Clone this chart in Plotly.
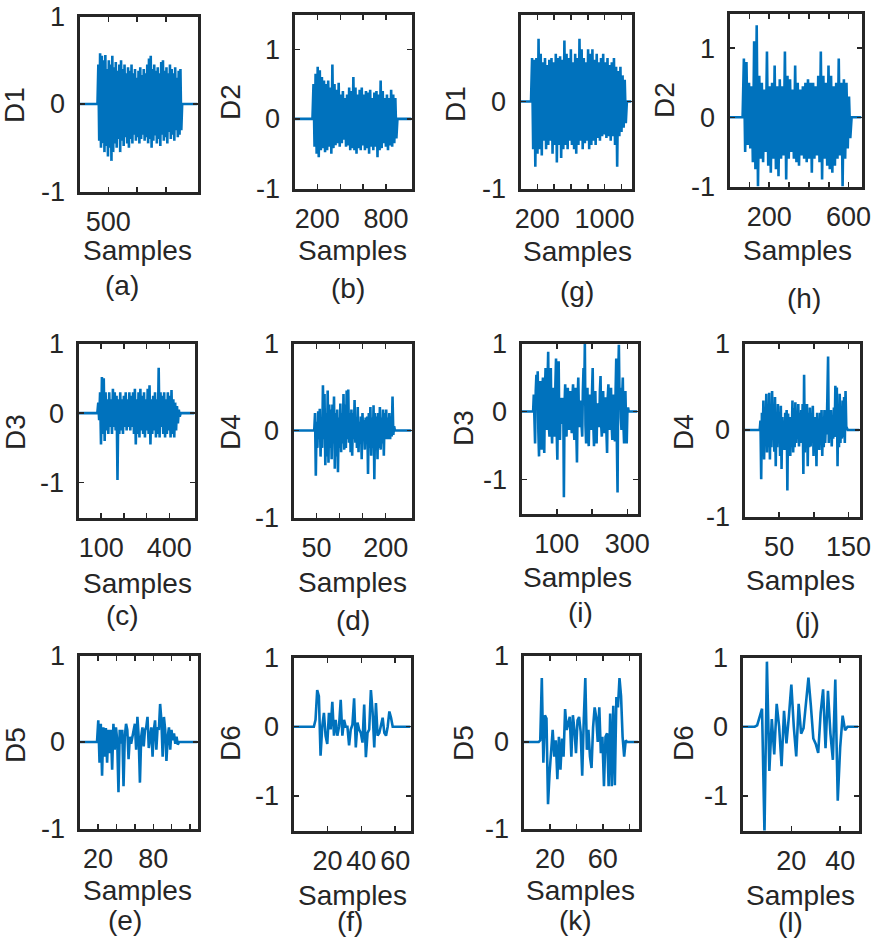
import numpy as np
import plotly.graph_objects as go

# ---------------- data ----------------
# (a) D1, left group
a_len = 2048
a_span = (312, 1782)
a_vals = [0.45,-0.42,0.58,-0.5,0.55,-0.45,0.5,-0.55,0.56,-0.48,0.4,-0.6,0.5,-0.5,0.45,-0.65,0.55,-0.55,
          0.42,-0.45,0.48,-0.5,0.38,-0.4,0.45,-0.55,0.5,-0.42,0.4,-0.48,0.45,-0.38,0.35,-0.45,0.42,-0.5,
          0.38,-0.4,0.45,-0.45,0.35,-0.35,0.4,-0.42,0.3,-0.38,0.38,-0.45,0.42,-0.4,0.33,-0.35,0.4,-0.42,
          0.35,-0.38,0.45,-0.45,0.52,-0.4,0.55,-0.5,0.4,-0.42,0.45,-0.36,0.38,-0.45,0.42,-0.4,0.35,-0.48,
          0.48,-0.35,0.5,-0.42,0.38,-0.38,0.42,-0.45,0.35,-0.32,0.45,-0.4,0.4,-0.35,0.35,-0.42,0.42,-0.3,
          0.3,-0.38,0.38,-0.35,0.4,-0.3]
# (b) D2
b_len = 1023
b_span = (157, 900)
b_vals = [0.5,-0.4,0.65,-0.5,0.75,-0.55,0.7,-0.45,0.6,-0.42,0.55,-0.48,0.5,-0.45,0.55,-0.4,0.45,-0.5,
          0.78,-0.42,0.5,-0.38,0.42,-0.35,0.52,-0.4,0.35,-0.35,0.4,-0.3,0.3,-0.4,0.35,-0.38,0.45,-0.45,
          0.4,-0.42,0.6,-0.45,0.45,-0.5,0.35,-0.42,0.42,-0.45,0.45,-0.38,0.35,-0.45,0.4,-0.42,0.38,-0.5,
          0.42,-0.4,0.3,-0.45,0.38,-0.4,0.4,-0.55,0.35,-0.45,0.55,-0.42,0.4,-0.35,0.3,-0.4,0.35,-0.45,
          0.3,-0.38,0.42,-0.4,0.35,-0.35,0.3,-0.28]
# (c) D3
c_len = 511
c_span = (83, 450)
c_vals = [0.15,-0.1,0.3,-0.45,0.52,-0.3,0.5,-0.4,0.3,-0.25,0.2,-0.3,0.3,-0.2,0.2,-0.3,0.35,-0.2,
          0.3,-0.25,0.25,-0.96,0.2,-0.3,0.3,-0.25,0.2,-0.3,0.25,-0.2,0.3,-0.25,0.2,-0.2,0.3,-0.25,
          0.25,-0.2,0.3,-0.3,0.35,-0.45,0.2,-0.3,0.3,-0.35,0.35,-0.25,0.25,-0.3,0.3,-0.35,0.2,-0.25,
          0.35,-0.3,0.4,-0.45,0.2,-0.3,0.25,-0.25,0.3,-0.35,0.2,-0.3,0.65,-0.35,0.3,-0.2,0.25,-0.3,
          0.3,-0.35,0.2,-0.3,0.3,-0.25,0.25,-0.35,0.33,-0.3,0.2,-0.35,0.15,-0.25,0.1,-0.15,0.05,-0.05]
# (d) D4
d_len = 256
d_span = (45, 220)
d_vals = [0.2,-0.52,0.1,-0.2,0.22,-0.1,0.25,-0.3,0.15,-0.2,0.52,-0.1,0.42,-0.4,0.2,-0.3,0.46,-0.37,
          0.3,-0.2,0.24,-0.33,0.3,-0.15,0.39,-0.44,0.2,-0.3,0.24,-0.48,0.15,-0.2,0.31,-0.25,0.2,-0.15,
          0.42,-0.22,0.3,-0.2,0.46,-0.1,0.47,-0.14,0.2,-0.25,0.24,-0.29,0.2,-0.1,0.35,-0.14,0.15,-0.2,
          0.27,-0.25,0.1,-0.15,0.16,-0.33,0.2,-0.1,0.12,-0.22,0.15,-0.15,0.16,-0.5,0.2,-0.2,0.27,-0.29,
          0.15,-0.2,0.29,-0.56,0.2,-0.15,0.16,-0.33,0.2,-0.2,0.27,-0.22,0.15,-0.15,0.24,-0.29,0.2,-0.1,
          0.24,-0.1,0.15,-0.1,0.2,-0.1,0.16,-0.07,0.39,-0.05,0.05]
# (e) D5
e_len = 128
e_span = (19, 108)
e_vals = [0.25,-0.24,0.21,-0.39,0.17,-0.17,0.16,-0.24,0.14,-0.13,0.14,-0.32,0.21,-0.09,0.17,0.02,
          -0.58,0.14,-0.02,0.14,-0.51,0.06,0.21,0.14,-0.2,0.06,-0.02,0.06,0.17,0.21,-0.09,0.29,0.06,
          -0.47,0.06,0.17,-0.05,0.14,0.17,0.29,-0.07,0.1,0.17,-0.17,0.14,0.25,-0.09,0.17,0.14,0.44,
          0.25,-0.17,0.29,0.14,-0.22,0.06,0.17,-0.09,0.14,0.02,0.1,-0.02,0.06,-0.03]
# (f) D6
f_len = 69
f_span = (12, 59.5)
f_vals = [0.1,0.53,0.44,-0.42,0.0,0.2,-0.13,-0.25,0.2,-0.04,0.36,-0.13,0.1,-0.13,0.0,0.39,-0.13,
          0.1,0.0,0.0,-0.27,-0.04,0.03,0.41,-0.3,0.06,-0.04,-0.09,-0.23,0.32,-0.44,-0.09,-0.04,0.53,
          0.22,-0.3,0.34,-0.13,-0.09,0.0,0.13,-0.09,-0.13,0.0,0.22,0.13,0.0]
# (g) D1, right group
g_len = 1320
g_span = (125, 1265)
g_vals = [0.5,-0.55,0.48,-0.75,0.5,-0.6,0.72,-0.55,0.55,-0.62,0.45,-0.45,0.5,-0.55,0.42,-0.5,0.48,-0.45,
          0.5,-0.6,0.45,-0.5,0.55,-0.7,0.5,-0.5,0.52,-0.65,0.48,-0.55,0.7,-0.5,0.55,-0.55,0.5,-0.45,
          0.6,-0.5,0.45,-0.55,0.55,-0.6,0.5,-0.5,0.72,-0.45,0.6,-0.55,0.5,-0.48,0.45,-0.45,0.6,-0.55,
          0.55,-0.5,0.6,-0.45,0.48,-0.5,0.55,-0.42,0.45,-0.45,0.5,-0.4,0.55,-0.38,0.45,-0.42,0.5,-0.4,
          0.42,-0.45,0.45,-0.4,0.5,-0.5,0.4,-0.75,0.35,-0.4,0.4,-0.35,0.3,-0.3,0.25,-0.25]
# (h) D2
h_len = 665
h_span = (66, 615)
h_vals = [0.85,-0.5,0.8,-0.4,0.5,-0.45,0.45,-0.65,1.1,-0.75,1.33,-1.0,0.6,-0.6,0.5,-0.65,0.4,-0.5,
          0.95,-0.7,0.45,-0.8,0.5,-0.6,0.75,-0.75,0.45,-0.85,0.55,-0.6,0.45,-0.55,0.95,-0.9,0.6,-0.6,
          0.55,-0.5,0.4,-0.6,0.75,-0.65,0.5,-0.7,0.4,-0.55,0.45,-0.6,0.5,-0.65,0.55,-0.6,0.5,-0.8,
          0.5,-0.6,0.45,-0.55,0.6,-0.65,0.95,-0.9,0.6,-0.6,0.5,-0.7,0.75,-0.75,0.6,-0.8,0.45,-0.7,
          0.5,-0.6,0.85,-0.55,0.5,-1.0,0.55,-0.6,0.5,-0.45,0.3,-0.3]
# (i) D3
i_len = 329
i_span = (33, 304)
i_vals = [0.25,-0.2,-0.47,0.3,0.54,0.2,0.59,-0.3,-0.66,0.2,0.45,-0.3,-0.56,0.3,0.5,-0.2,-0.61,0.3,
          0.64,-0.1,-0.27,0.4,0.88,-0.2,-0.37,0.3,0.64,-0.2,-0.47,0.2,0.35,-0.1,-0.37,0.4,0.78,-0.3,
          -0.71,0.3,0.74,-0.2,-0.42,0.2,0.11,-0.1,-0.18,0.2,-1.26,0.1,0.4,-0.2,-0.37,0.2,0.35,-0.1,
          -0.27,0.2,0.3,-0.1,-0.32,0.2,0.4,-0.2,-0.42,0.2,0.35,-0.3,-0.75,0.2,0.5,-0.1,-0.23,0.1,
          0.16,-0.2,-0.37,0.3,0.64,0.2,1.0,-0.2,-0.47,0.2,0.35,-0.3,-0.51,0.1,0.25,-0.1,-0.27,0.3,
          0.64,-0.2,-0.51,0.2,0.3,-0.2,-0.47,0.1,0.11,-0.1,-0.23,0.3,0.52,-0.2,-0.37,0.1,0.3,-0.2,
          -0.32,0.1,0.21,-0.3,-0.61,0.2,0.4,-0.1,-0.27,0.2,0.35,-0.2,-0.42,0.1,0.25,-0.2,-0.44,0.3,
          0.78,-0.5,-1.19,0.5,0.98,0.2,0.35,-0.1,-0.27,0.2,0.5,-0.2,-0.47,0.1,0.3,-0.2,-0.47,0.0,0.06]
# (j) D4
j_len = 166
j_span = (22, 149)
j_vals = [0.11,-0.57,0.2,-0.2,0.34,-0.34,0.2,-0.15,0.42,-0.26,0.3,-0.2,0.43,-0.34,0.25,-0.2,0.45,-0.11,
          0.3,-0.25,0.38,-0.42,0.2,-0.2,0.3,-0.08,0.2,-0.3,0.28,-0.45,0.15,-0.2,0.11,-0.23,0.2,-0.15,
          0.23,-0.7,0.19,-0.2,0.15,-0.3,0.11,-0.1,0.34,-0.26,0.25,-0.2,0.32,-0.15,0.2,-0.1,0.3,-0.19,
          0.2,-0.15,0.23,-0.1,0.3,-0.51,0.64,-0.26,0.2,-0.15,0.3,-0.42,0.2,-0.2,0.26,-0.19,0.15,-0.1,
          0.28,-0.3,0.15,-0.2,0.15,-0.42,0.2,-0.1,0.11,-0.23,0.2,-0.15,0.23,-0.3,0.15,-0.2,0.23,-0.15,
          0.1,-0.05,0.38,0.85,-0.15,0.2,-0.1,0.23,-0.19,0.15,-0.1,0.26,-0.08,0.51,0.0,0.49,-0.42,0.3,
          -0.2,0.42,-0.15,0.2,-0.1,0.34,-0.08,0.38,-0.15,0.45,0.04,0.02]
# (k) D5
k_len = 87
k_span = (11.5, 78.5)
k_vals = [0.02,0.74,-0.24,0.31,0.27,-0.72,-0.36,-0.09,0.14,-0.17,0.02,-0.43,0.06,-0.32,0.04,-0.17,
          0.38,0.14,0.21,0.29,-0.17,0.31,0.14,-0.13,0.25,0.29,0.12,-0.39,0.25,0.74,-0.09,0.14,-0.17,
          -0.3,0.17,0.4,0.29,0.0,0.4,-0.13,0.06,-0.51,0.06,0.1,-0.51,0.33,-0.51,0.42,-0.5,0.52,0.4,
          0.74,0.53,0.06,-0.17,0.02]
# (l) D6
l_len = 47.5
l_span = (5, 45)
l_vals = [0.02,0.15,0.26,-1.55,0.94,-0.64,0.11,-0.4,0.33,0.0,-0.57,0.23,-0.24,0.15,0.61,0.0,-0.43,
          0.33,-0.1,-0.02,0.4,0.71,0.3,-0.17,-0.25,-0.38,0.2,0.54,-0.31,0.52,-0.1,-0.48,0.68,-1.07,
          -0.3,0.16,-0.05,0.0,0.0]

y_names = ["D1", "D2", "D3", "D4", "D5", "D6", "D1", "D2", "D3", "D4", "D5", "D6"]
letters = ["a", "b", "c", "d", "e", "f", "g", "h", "i", "j", "k", "l"]
x_tickvals = {
    "a": [500, 1000, 1500], "b": [200, 400, 600, 800], "c": [100, 200, 300, 400],
    "d": [50, 100, 150, 200], "e": [20, 40, 60, 80, 100, 120], "f": [20, 40, 60],
    "g": [200, 400, 600, 800, 1000, 1200], "h": [100, 200, 300, 400, 500, 600],
    "i": [100, 200, 300], "j": [50, 100, 150], "k": [20, 40, 60, 80], "l": [20, 40],
}
x_ticktext = {
    "a": ["500", "", ""], "b": ["200", "", "", "800"], "c": ["100", "", "", "400"],
    "d": ["50", "", "", "200"], "e": ["20", "", "", "80", "", ""], "f": ["20", "40", "60"],
    "g": ["200", "", "", "", "1000", ""], "h": ["", "200", "", "", "", "600"],
    "i": ["100", "", "300"], "j": ["50", "", "150"], "k": ["20", "", "60", ""], "l": ["20", "40"],
}
y_ranges = {
    "a": [-1, 1], "b": [-1, 1.5], "c": [-1.5, 1], "d": [-1, 1], "e": [-1, 1], "f": [-1.5, 1],
    "g": [-1, 1], "h": [-1, 1.5], "i": [-1.5, 1], "j": [-1, 1], "k": [-1, 1], "l": [-1.5, 1],
}
y_tickvals = [-1, 0, 1]
y_ticktext = ["-1", "0", "1"]

series = {
    "a": (a_len, a_span, a_vals), "b": (b_len, b_span, b_vals), "c": (c_len, c_span, c_vals),
    "d": (d_len, d_span, d_vals), "e": (e_len, e_span, e_vals), "f": (f_len, f_span, f_vals),
    "g": (g_len, g_span, g_vals), "h": (h_len, h_span, h_vals), "i": (i_len, i_span, i_vals),
    "j": (j_len, j_span, j_vals), "k": (k_len, k_span, k_vals), "l": (l_len, l_span, l_vals),
}

# ---------------- layout (pixel geometry of each panel) ----------------
W, H = 883, 943
BLUE = "#0072BD"
INK = "#262626"
FONT = "Liberation Sans, Arial, sans-serif"

# box: left, right, top, bottom (px)
boxes = {
    "a": (78, 199, 15, 193), "b": (293, 413, 13, 190), "g": (519, 633, 13, 190), "h": (728, 863, 12, 188),
    "c": (77, 196, 342, 519), "d": (292, 413, 342, 519), "i": (520, 639, 342, 515), "j": (743, 861, 342, 518),
    "e": (78, 199, 654, 830), "f": (292, 412, 656, 832), "k": (522, 640, 654, 830), "l": (741, 860, 656, 832),
}
ylab_pos = {
    "a": (15, 105), "b": (230, 102), "g": (455, 104), "h": (664, 100),
    "c": (15, 432), "d": (230, 432), "i": (463, 428), "j": (683, 432),
    "e": (15, 745), "f": (230, 743), "k": (463, 743), "l": (683, 743),
}
samples_pos = {
    "a": (137, 250), "b": (352, 250), "g": (577, 252), "h": (797, 250),
    "c": (137, 583), "d": (352, 582), "i": (577, 577), "j": (800, 580),
    "e": (137, 890), "f": (352, 895), "k": (580, 890), "l": (800, 895),
}
caption_pos = {
    "a": (122, 286), "b": (348, 288), "g": (577, 291), "h": (804, 298),
    "c": (123, 615), "d": (353, 620), "i": (580, 612), "j": (807, 622),
    "e": (125, 920), "f": (350, 921), "k": (575, 920), "l": (790, 922),
}

fig = go.Figure()
annotations = []
layout = dict(
    width=W, height=H, margin=dict(l=0, r=0, t=0, b=0, autoexpand=False),
    paper_bgcolor="white", plot_bgcolor="white", showlegend=False,
    font=dict(family=FONT, color=INK),
)
LW = 3
for idx, key in enumerate(letters, start=1):
    n, (s0, s1), vals = series[key]
    xs = [0, s0] + list(np.linspace(s0, s1, len(vals) + 2)[1:-1]) + [s1, n]
    ys = [0, 0] + list(vals) + [0, 0]
    sfx = "" if idx == 1 else str(idx)
    fig.add_trace(go.Scatter(x=xs, y=ys, mode="lines", line=dict(color=BLUE, width=2.6),
                             xaxis="x" + sfx, yaxis="y" + sfx, hoverinfo="skip"))
    l, r, t, b = boxes[key]
    common = dict(showline=True, linecolor=INK, linewidth=LW, mirror="ticks", ticks="inside",
                  ticklen=5, tickwidth=1.5, tickcolor=INK, showgrid=False, zeroline=False,
                  automargin=False,
                  tickfont=dict(family=FONT, size=27, color=INK), fixedrange=True)
    layout["xaxis" + sfx] = dict(common, domain=[(l + 1.5) / W, (r - 1.5) / W], anchor="y" + sfx,
                                 range=[0, n], tickmode="array", tickvals=x_tickvals[key],
                                 ticktext=x_ticktext[key], ticklabelstandoff=4)
    layout["yaxis" + sfx] = dict(common, domain=[1 - (b - 1.5) / H, 1 - (t + 1.5) / H], anchor="x" + sfx,
                                 range=y_ranges[key], tickmode="array", tickvals=y_tickvals,
                                 ticktext=y_ticktext, ticklabelstandoff=6)
    yx, yy = ylab_pos[key]
    annotations.append(dict(text=y_names[idx - 1], x=yx / W, y=1 - yy / H, xref="paper", yref="paper",
                            showarrow=False, textangle=-90, xanchor="center", yanchor="middle",
                            font=dict(family=FONT, size=28, color=INK)))
    sx, sy = samples_pos[key]
    annotations.append(dict(text="Samples", x=sx / W, y=1 - sy / H, xref="paper", yref="paper",
                            showarrow=False, xanchor="center", yanchor="middle",
                            font=dict(family=FONT, size=28, color=INK)))
    cx, cy = caption_pos[key]
    annotations.append(dict(text="(" + key + ")", x=cx / W, y=1 - cy / H, xref="paper", yref="paper",
                            showarrow=False, xanchor="center", yanchor="middle",
                            font=dict(family=FONT, size=28, color=INK)))

layout["annotations"] = annotations
fig.update_layout(**layout)
# the page body otherwise adds an 8px margin around the 883x943 figure
fig.write_html("out.html", config={"displayModeBar": False, "staticPlot": True},
               post_script="document.body.style.margin='0';document.body.style.overflow='hidden';")
